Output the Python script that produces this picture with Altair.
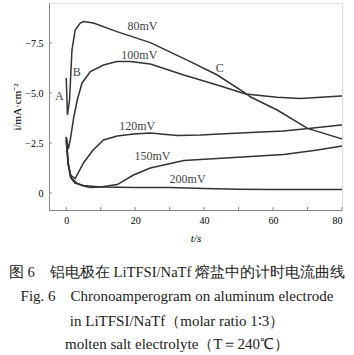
import altair as alt
import pandas as pd

# ---- data ----
t80 = [0, 0.35, 0.96, 1.66, 2.6, 4.07, 5.0, 7.9, 14.7, 24.4, 36, 43.8, 51.5, 53.5, 61.2, 70, 79.7, 80]
i80 = [-5.75, -3.9, -4.65, -7.15, -8.15, -8.5, -8.57, -8.5, -8.07, -7.52, -6.57, -5.9, -5.05, -4.8, -4.15, -3.23, -2.72, -2.7]

t100 = [0, 0.6, 1.2, 2.2, 3.2, 4.56, 7.0, 10.8, 14.7, 18.6, 24.4, 34.1, 43.8, 52, 61.2, 68, 79.7, 80]
i100 = [-2.8, -2.2, -2.7, -3.8, -4.65, -5.49, -6.07, -6.4, -6.57, -6.57, -6.45, -5.9, -5.4, -4.95, -4.79, -4.73, -4.85, -4.85]

t120 = [0, 0.6, 1.2, 2.6, 5, 7.8, 10.8, 14.8, 19.5, 24.4, 32.2, 39, 46, 53.5, 63, 70.3, 79.7, 80]
i120 = [-2.8, -1.5, -0.9, -0.72, -1.5, -2.15, -2.65, -2.85, -2.95, -3.0, -2.87, -2.9, -2.96, -3.03, -3.1, -3.23, -3.4, -3.4]

t150 = [0, 0.6, 1.5, 3, 5, 7, 9.9, 14.8, 19.5, 24.4, 34.1, 43.8, 53.5, 63.1, 72.9, 80]
i150 = [-2.7, -1.4, -0.75, -0.5, -0.35, -0.28, -0.3, -0.42, -0.9, -1.25, -1.62, -1.73, -1.82, -1.93, -2.15, -2.35]

t200 = [0, 0.5, 1.2, 2.5, 5, 10, 20, 30, 40, 50, 60, 70, 80]
i200 = [-2.6, -1.5, -0.8, -0.5, -0.38, -0.3, -0.28, -0.27, -0.22, -0.19, -0.18, -0.18, -0.18]

label_text = ["80mV", "100mV", "120mV", "150mV", "200mV", "A", "B", "C"]
label_t = [22.1, 21.2, 20.6, 25.0, 35.2, -2.0, 3.05, 44.5]
label_i = [-8.35, -6.9, -3.35, -1.85, -0.7, -4.85, -6.05, -6.25]

x_ticks = [0, 10, 20, 30, 40, 50, 60, 70, 80]
y_ticks = [-7.5, -5.0, -2.5, 0]

captions = [
    "图 6　铝电极在 LiTFSI/NaTf 熔盐中的计时电流曲线",
    "Fig. 6　Chronoamperogram on aluminum electrode",
    "in LiTFSI/NaTf（molar ratio 1∶3）",
    "molten salt electrolyte（T＝240℃）",
]

# ---- build tables ----
rows = []
for name, ts, is_ in [("80", t80, i80), ("100", t100, i100), ("120", t120, i120),
                      ("150", t150, i150), ("200", t200, i200)]:
    for k, (t, i) in enumerate(zip(ts, is_)):
        rows.append({"series": name, "k": k, "t": t, "i": i})
df = pd.DataFrame(rows)
lab = pd.DataFrame({"text": label_text, "t": label_t, "i": label_i})

W, H = 293, 207
SERIF = "Liberation Serif, Times New Roman, serif"
xs = alt.Scale(domain=[-5, 80], nice=False, zero=False)
ys = alt.Scale(domain=[0.85, -9.5], nice=False, zero=False)

lines = alt.Chart(df).mark_line(color="#333", strokeWidth=1.5).encode(
    x=alt.X("t:Q", scale=xs, axis=alt.Axis(values=x_ticks, title="t/s", tickSize=0,
            labelPadding=5, titlePadding=7, grid=False, format="d",
            labelFont=SERIF, titleFont=SERIF,
            titleFontWeight="normal", titleFontStyle="italic")),
    y=alt.Y("i:Q", scale=ys, axis=alt.Axis(values=y_ticks, title="i/mA·cm⁻²", tickSize=0,
            labelPadding=6, titlePadding=2, grid=False,
            labelFont=SERIF, titleFont=SERIF,
            titleFontWeight="normal",
            labelExpr="datum.value == 0 ? '0' : replace(format(datum.value, '.1f'), '-', '−')")),
    detail="series:N",
    order="k:Q",
)

texts = alt.Chart(lab).mark_text(font=SERIF, fontSize=12, color="#444").encode(
    x=alt.X("t:Q", scale=xs), y=alt.Y("i:Q", scale=ys), text="text:N"
)

xt = alt.Chart(pd.DataFrame({"t": x_ticks})).mark_rule(color="#888").encode(
    x=alt.X("t:Q", scale=xs), y=alt.value(H), y2=alt.value(H - 3)
)
yt = alt.Chart(pd.DataFrame({"i": y_ticks})).mark_rule(color="#888").encode(
    y=alt.Y("i:Q", scale=ys), x=alt.value(0), x2=alt.value(3)
)

cap_y = [270, 293, 318, 341]
cap_size = [14.6, 15, 15, 15]
cap_layers = []
for txt, yy, fs in zip(captions, cap_y, cap_size):
    cap_layers.append(
        alt.Chart(pd.DataFrame({"text": [txt]})).mark_text(
            font=SERIF, fontSize=fs, color="#222", baseline="middle"
        ).encode(x=alt.value(128), y=alt.value(yy), text="text:N")
    )

chart = alt.layer(lines, texts, xt, yt, *cap_layers).properties(
    width=W, height=H,
    autosize=alt.AutoSizeParams(type="none"),
    padding={"left": 49, "top": 3, "right": 12, "bottom": 145},
).configure_view(stroke="#999", strokeWidth=1).configure_axis(
    domainColor="#999", labelFontSize=12,
    titleFontSize=12, labelColor="#555", titleColor="#444"
).configure(background="white")

chart.save("out.html", embed_options={"renderer": "svg", "actions": False})
